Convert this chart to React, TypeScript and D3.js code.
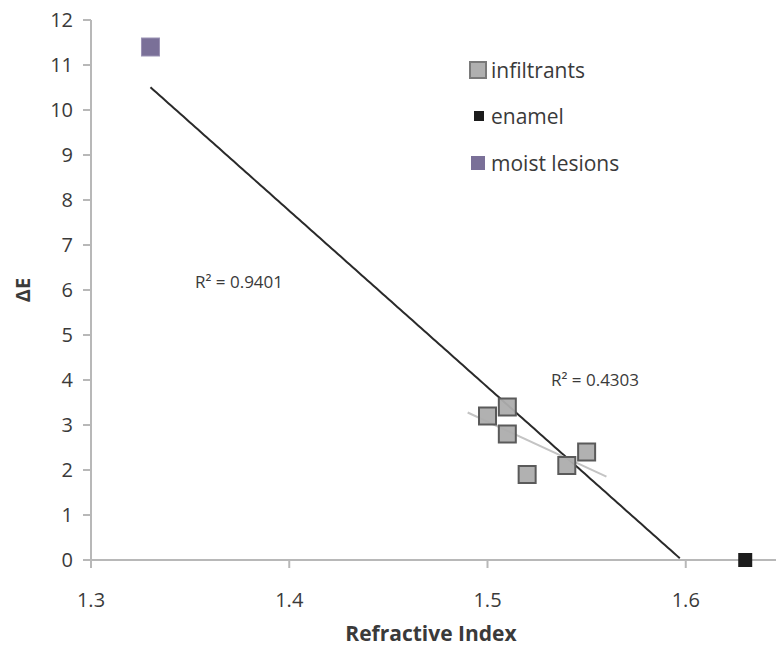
import React from "react";
import * as d3 from "d3";

// values
const infiltrantRI = [1.51, 1.50, 1.51, 1.55, 1.54, 1.52];
const infiltrantDE = [3.4, 3.2, 2.8, 2.4, 2.1, 1.9];
const enamelRI = [1.63];
const enamelDE = [0];
const moistRI = [1.33];
const moistDE = [11.4];
const yTickValues = [0, 1, 2, 3, 4, 5, 6, 7, 8, 9, 10, 11, 12];
const xTickValues = [1.3, 1.4, 1.5, 1.6];
const legendLabels = ["infiltrants", "enamel", "moist lesions"];
const r2Labels = ["R\u00b2 = 0.9401", "R\u00b2 = 0.4303"];

const width = 776;
const height = 655;

function fit(xs: number[], ys: number[]) {
  const mx = d3.mean(xs)!;
  const my = d3.mean(ys)!;
  const sxy = d3.sum(xs, (x, i) => (x - mx) * (ys[i] - my));
  const sxx = d3.sum(xs, x => (x - mx) ** 2);
  const slope = sxy / sxx;
  return (x: number) => my + slope * (x - mx);
}

export default function App() {
  const xScale = d3.scaleLinear().domain([1.3, 1.7]).range([91, 884]);
  const yScale = d3.scaleLinear().domain([0, 12]).range([560, 20]);
  const font = "'Open Sans', 'DejaVu Sans', sans-serif";
  const textColor = "#3a3a3a";
  const axisColor = "#b8b8b8";

  // overall trend: every point
  const allX = [...moistRI, ...infiltrantRI, ...enamelRI];
  const allY = [...moistDE, ...infiltrantDE, ...enamelDE];
  const f1 = fit(allX, allY);
  const xStart = d3.min(allX)!;
  // clip at the x axis (y = 0)
  const xs1 = d3.range(0, 201).map(i => xStart + (i / 200) * (d3.max(allX)! - xStart));
  const pts1 = xs1.map(x => [x, f1(x)] as [number, number]).filter(d => d[1] >= 0);
  // infiltrants trend, forecast 0.01 each side
  const f2 = fit(infiltrantRI, infiltrantDE);
  const x2a = d3.min(infiltrantRI)! - 0.01;
  const x2b = d3.max(infiltrantRI)! + 0.01;

  const line = d3.line<[number, number]>()
    .x(d => xScale(d[0]))
    .y(d => yScale(d[1]));

  const legendY = [70, 116, 163];

  return (
    <svg width={width} height={height} style={{position: "absolute", left: 0, top: 0, background: "#fff"}}>
      {/* y axis */}
      <line x1={91} x2={91} y1={yScale(0)} y2={yScale(12)} stroke={axisColor} strokeWidth={2}/>
      {yTickValues.map(t => (
        <g key={t} transform={`translate(0, ${yScale(t)})`}>
          <line x1={83} x2={91} stroke={axisColor} strokeWidth={2}/>
          <text x={73} dy="0.36em" textAnchor="end" fontFamily={font} fontSize={20} fill={textColor}>{t}</text>
        </g>
      ))}
      {/* x axis */}
      <line x1={83} x2={width} y1={yScale(0)} y2={yScale(0)} stroke={axisColor} strokeWidth={2}/>
      {xTickValues.map(t => (
        <g key={t} transform={`translate(${xScale(t)}, ${yScale(0)})`}>
          <line y1={0} y2={8} stroke={axisColor} strokeWidth={2}/>
          <text y={47} textAnchor="middle" fontFamily={font} fontSize={20} fill={textColor}>{d3.format(".1f")(t)}</text>
        </g>
      ))}
      <text transform={`translate(30, ${yScale(6)}) rotate(-90)`} textAnchor="middle" fontFamily={font} fontSize={20} fontWeight="bold" fill={textColor}>ΔE</text>
      <text x={431} y={641} textAnchor="middle" fontFamily={font} fontSize={21} fontWeight="bold" fill={textColor}>Refractive Index</text>

      {/* trend lines */}
      <path d={line(pts1) || ""} stroke="#2a2a2a" strokeWidth={2} fill="none"/>
      <path d={line([[x2a, f2(x2a)], [x2b, f2(x2b)]]) || ""} stroke="#c4c4c4" strokeWidth={2} fill="none"/>

      {/* points */}
      {infiltrantRI.map((x, i) => (
        <rect key={i} x={xScale(x) - 8.5} y={yScale(infiltrantDE[i]) - 8.5} width={17} height={17}
              fill="#adadad" stroke="#5a5a5a" strokeWidth={2} fillOpacity={0.95}/>
      ))}
      {enamelRI.map((x, i) => (
        <rect key={i} x={xScale(x) - 7} y={yScale(enamelDE[i]) - 7} width={14} height={14} fill="#1c1c1c"/>
      ))}
      {moistRI.map((x, i) => (
        <rect key={i} x={xScale(x) - 9} y={yScale(moistDE[i]) - 9} width={18} height={18} fill="#7a7098" stroke="#9a92b4" strokeWidth={1}/>
      ))}

      {/* R² labels */}
      <text x={195} y={288} fontFamily={font} fontSize={17} fill={textColor}>{r2Labels[0]}</text>
      <text x={551} y={386} fontFamily={font} fontSize={17} fill={textColor}>{r2Labels[1]}</text>

      {/* legend */}
      <rect x={470} y={legendY[0] - 8} width={16} height={16} fill="#b0b0b0" stroke="#7a7a7a" strokeWidth={2}/>
      <rect x={474} y={legendY[1] - 5} width={10} height={10} fill="#1c1c1c"/>
      <rect x={471} y={legendY[2] - 7} width={14} height={14} fill="#7a7098"/>
      {legendLabels.map((l, i) => (
        <text key={l} x={491} y={legendY[i]} dy="0.36em" fontFamily={font} fontSize={21} fill={textColor}>{l}</text>
      ))}
    </svg>
  );
}
